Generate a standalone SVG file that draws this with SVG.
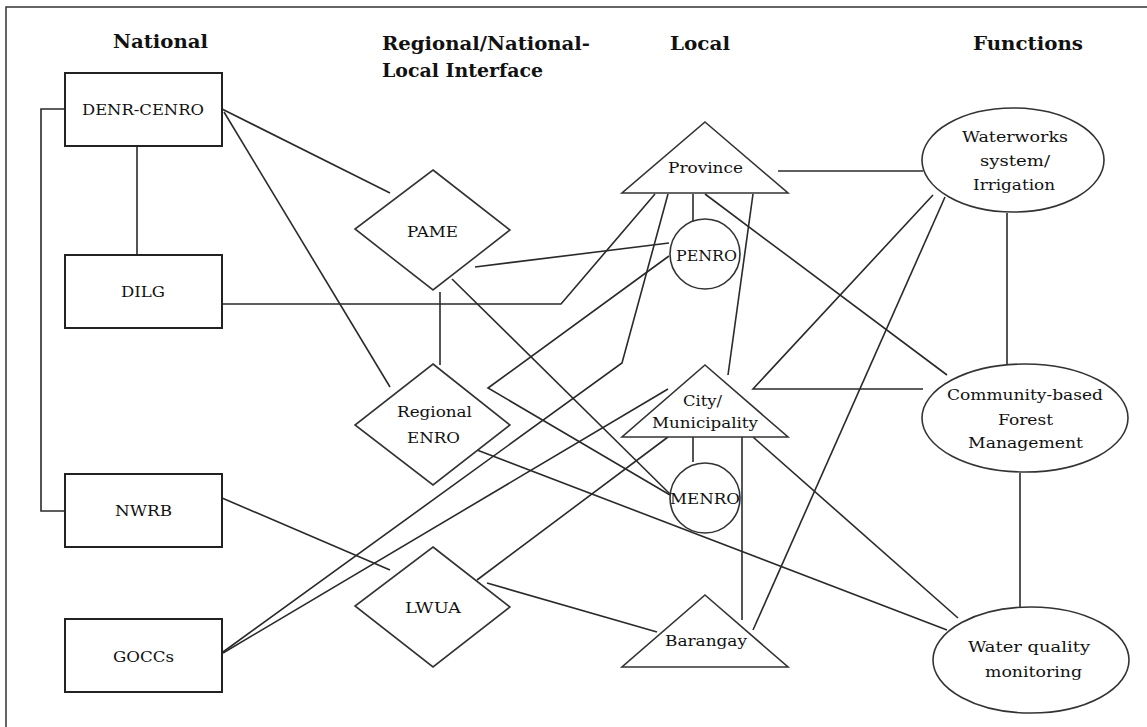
<svg xmlns="http://www.w3.org/2000/svg" width="1147" height="727" viewBox="0 0 1147 727">
<style>
.frame{fill:none;stroke:#333;stroke-width:1.5}
.box{fill:#fff;stroke:#222;stroke-width:2}
.shape{fill:#fff;stroke:#333;stroke-width:1.6}
.ln{fill:none;stroke:#2a2a2a;stroke-width:1.6}
.hd{font-family:"DejaVu Serif","Liberation Serif",serif;font-weight:bold;font-size:19px;fill:#111}
.lb{font-family:"DejaVu Serif","Liberation Serif",serif;font-size:15px;fill:#111;text-anchor:middle}
</style>
<rect width="1147" height="727" fill="#fff"/>
<rect class="frame" x="6" y="7" width="1160" height="740"/>
<g id="headers">
<text class="hd" x="160.5" y="48" text-anchor="middle" textLength="95" lengthAdjust="spacingAndGlyphs">National</text>
<text class="hd" x="382" y="50" textLength="208" lengthAdjust="spacingAndGlyphs">Regional/National-</text>
<text class="hd" x="382" y="77" textLength="161" lengthAdjust="spacingAndGlyphs">Local Interface</text>
<text class="hd" x="700" y="50" text-anchor="middle" textLength="60" lengthAdjust="spacingAndGlyphs">Local</text>
<text class="hd" x="1028" y="50" text-anchor="middle" textLength="110" lengthAdjust="spacingAndGlyphs">Functions</text>
</g>
<g id="connectors">
<polyline class="ln" points="65,109 41,109 41,511 65,511"/>
<line class="ln" x1="137" y1="146" x2="137" y2="255"/>
<line class="ln" x1="222" y1="109" x2="390" y2="193"/>
<line class="ln" x1="224" y1="112" x2="390" y2="387"/>
<polyline class="ln" points="222,304 561,304 655,194"/>
<line class="ln" x1="475" y1="267" x2="669" y2="243"/>
<line class="ln" x1="440" y1="292" x2="440" y2="365"/>
<line class="ln" x1="452" y1="279" x2="670" y2="494"/>
<polyline class="ln" points="669,256 488,388 670,495"/>
<line class="ln" x1="693" y1="194" x2="693" y2="221"/>
<polyline class="ln" points="668,194 622,363 223,652"/>
<line class="ln" x1="753" y1="194" x2="728" y2="375"/>
<line class="ln" x1="705" y1="194" x2="947" y2="375"/>
<line class="ln" x1="778" y1="171" x2="923" y2="171"/>
<line class="ln" x1="693" y1="437" x2="693" y2="462"/>
<line class="ln" x1="742" y1="437" x2="742" y2="620"/>
<line class="ln" x1="753" y1="437" x2="958" y2="618"/>
<line class="ln" x1="223" y1="653" x2="668" y2="389"/>
<line class="ln" x1="477" y1="580" x2="668" y2="437"/>
<line class="ln" x1="487" y1="583" x2="657" y2="632"/>
<line class="ln" x1="222" y1="498" x2="390" y2="570"/>
<line class="ln" x1="477" y1="450" x2="947" y2="630"/>
<polyline class="ln" points="933,195 753,389 923,389"/>
<line class="ln" x1="945" y1="197" x2="753" y2="630"/>
<line class="ln" x1="1007" y1="213" x2="1007" y2="364"/>
<line class="ln" x1="1020" y1="473" x2="1020" y2="607"/>
</g>
<g id="denr-cenro"><rect class="box" x="65" y="73" width="157" height="73"/><text class="lb" x="143" y="115" textLength="122" lengthAdjust="spacingAndGlyphs">DENR-CENRO</text></g>
<g id="dilg"><rect class="box" x="65" y="255" width="157" height="73"/><text class="lb" x="143" y="297" textLength="44" lengthAdjust="spacingAndGlyphs">DILG</text></g>
<g id="nwrb"><rect class="box" x="65" y="474" width="157" height="73"/><text class="lb" x="143.5" y="516" textLength="57" lengthAdjust="spacingAndGlyphs">NWRB</text></g>
<g id="goccs"><rect class="box" x="65" y="619" width="157" height="73"/><text class="lb" x="143.5" y="662" textLength="61" lengthAdjust="spacingAndGlyphs">GOCCs</text></g>
<g id="pame"><polygon class="shape" points="433,170 510,230 433,290 355,229"/><text class="lb" x="432.5" y="237" textLength="51" lengthAdjust="spacingAndGlyphs">PAME</text></g>
<g id="regional-enro"><polygon class="shape" points="433,364 510,425 433,485 355,425"/><text class="lb" x="434.5" y="417" textLength="75" lengthAdjust="spacingAndGlyphs">Regional</text><text class="lb" x="433.5" y="443" textLength="53" lengthAdjust="spacingAndGlyphs">ENRO</text></g>
<g id="lwua"><polygon class="shape" points="433,547 510,607 433,667 355,606"/><text class="lb" x="433" y="613" textLength="56" lengthAdjust="spacingAndGlyphs">LWUA</text></g>
<g id="province"><polygon class="shape" points="705,122 788,193 622,193"/><text class="lb" x="705.5" y="173" textLength="75" lengthAdjust="spacingAndGlyphs">Province</text></g>
<g id="penro"><circle class="shape" cx="705" cy="254" r="35"/><text class="lb" x="706.5" y="261" textLength="61" lengthAdjust="spacingAndGlyphs">PENRO</text></g>
<g id="city-municipality"><polygon class="shape" points="705,365 788,437 622,437"/><text class="lb" x="702.5" y="406" textLength="39" lengthAdjust="spacingAndGlyphs">City/</text><text class="lb" x="705" y="428" textLength="106" lengthAdjust="spacingAndGlyphs">Municipality</text></g>
<g id="menro"><circle class="shape" cx="705" cy="498" r="35"/><text class="lb" x="705" y="504" textLength="70" lengthAdjust="spacingAndGlyphs">MENRO</text></g>
<g id="barangay"><polygon class="shape" points="705,595 788,667 622,667"/><text class="lb" x="706" y="646" textLength="82" lengthAdjust="spacingAndGlyphs">Barangay</text></g>
<g id="waterworks"><ellipse class="shape" cx="1013" cy="160" rx="91" ry="52"/><text class="lb" x="1015" y="142" textLength="106" lengthAdjust="spacingAndGlyphs">Waterworks</text><text class="lb" x="1015" y="166" textLength="70" lengthAdjust="spacingAndGlyphs">system/</text><text class="lb" x="1014" y="190" textLength="82" lengthAdjust="spacingAndGlyphs">Irrigation</text></g>
<g id="cbfm"><ellipse class="shape" cx="1025" cy="418" rx="103" ry="54"/><text class="lb" x="1025" y="400" textLength="156" lengthAdjust="spacingAndGlyphs">Community-based</text><text class="lb" x="1025.5" y="425" textLength="55" lengthAdjust="spacingAndGlyphs">Forest</text><text class="lb" x="1025.5" y="448" textLength="115" lengthAdjust="spacingAndGlyphs">Management</text></g>
<g id="water-quality"><ellipse class="shape" cx="1031" cy="660" rx="98" ry="53"/><text class="lb" x="1029" y="652" textLength="122" lengthAdjust="spacingAndGlyphs">Water quality</text><text class="lb" x="1033.5" y="677" textLength="97" lengthAdjust="spacingAndGlyphs">monitoring</text></g>
</svg>
